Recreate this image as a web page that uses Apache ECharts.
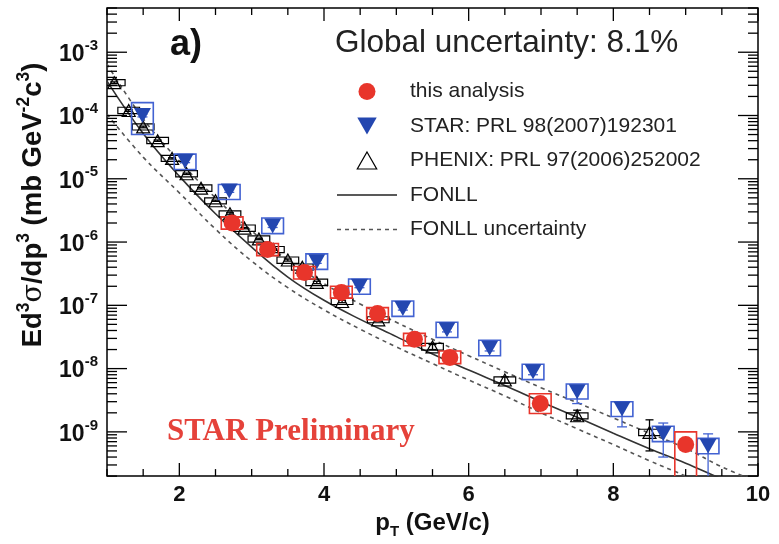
<!DOCTYPE html>
<html>
<head>
<meta charset="utf-8">
<script src="https://cdn.jsdelivr.net/npm/echarts@6/dist/echarts.min.js"></script>
<style>
html,body{margin:0;padding:0;background:#fff;}
#chart{width:779px;height:544px;}
</style>
</head>
<body>
<div id="chart"></div>
<script>
// ---------------- data ----------------
const xMin = 1, xMax = 10;
const yMin = 2e-10, yMax = 5e-3;
const xTickLabels = [2, 4, 6, 8, 10];
const yDecades = [-9, -8, -7, -6, -5, -4, -3];

// this analysis (red)
const redPt     = [2.73, 3.22, 3.73, 4.24, 4.74, 5.25, 5.74, 6.99, 9.0];
const redVal    = [2.0e-6, 7.6e-7, 3.3e-7, 1.6e-7, 7.4e-8, 2.9e-8, 1.5e-8, 2.8e-9, 6.3e-10];
const redSysHi  = [2.5e-6, 9.5e-7, 4.1e-7, 2.0e-7, 9.2e-8, 3.6e-8, 1.9e-8, 4.0e-9, 1.0e-9];
const redSysLo  = [1.6e-6, 6.1e-7, 2.6e-7, 1.3e-7, 5.9e-8, 2.3e-8, 1.2e-8, 1.95e-9, 1.0e-10];

// STAR PRL 98 (2007) 192301 (blue)
const starPt    = [1.49, 2.08, 2.69, 3.29, 3.90, 4.49, 5.09, 5.70, 6.29, 6.89, 7.50, 8.12, 8.69, 9.31];
const starVal   = [1.0e-4, 1.9e-5, 6.4e-6, 1.8e-6, 4.9e-7, 2.0e-7, 8.9e-8, 4.1e-8, 2.1e-8, 8.9e-9, 4.3e-9, 2.3e-9, 9.3e-10, 6.0e-10];
const starSysHi = [1.6e-4, 2.45e-5, 8.1e-6, 2.4e-6, 6.5e-7, 2.6e-7, 1.17e-7, 5.4e-8, 2.8e-8, 1.17e-8, 5.7e-9, 3.0e-9, 1.23e-9, 7.9e-10];
const starSysLo = [5.0e-5, 1.4e-5, 4.7e-6, 1.36e-6, 3.7e-7, 1.5e-7, 6.7e-8, 3.1e-8, 1.6e-8, 6.7e-9, 3.3e-9, 1.75e-9, 7.0e-10, 4.5e-10];
const starStatHi= [1.05e-4, 2.0e-5, 6.7e-6, 1.9e-6, 5.2e-7, 2.1e-7, 9.4e-8, 4.4e-8, 2.3e-8, 9.8e-9, 4.6e-9, 2.95e-9, 1.38e-9, 9.3e-10];
const starStatLo= [0.95e-4, 1.8e-5, 6.1e-6, 1.7e-6, 4.6e-7, 1.9e-7, 8.4e-8, 3.8e-8, 1.9e-8, 8.0e-9, 2.8e-9, 1.2e-9, 4.0e-10, 1.0e-10];

// PHENIX PRL 97 (2006) 252002 (black open triangles)
const phxPt     = [1.1, 1.3, 1.5, 1.7, 1.9, 2.1, 2.3, 2.5, 2.7, 2.9, 3.1, 3.3, 3.5, 3.7, 3.9, 4.25, 4.75, 5.5, 6.5, 7.5, 8.5];
const phxVal    = [3.3e-4, 1.2e-4, 6.6e-5, 4.0e-5, 2.1e-5, 1.2e-5, 7.1e-6, 4.5e-6, 2.8e-6, 1.66e-6, 1.12e-6, 7.6e-7, 5.2e-7, 4.0e-7, 2.3e-7, 1.15e-7, 5.9e-8, 2.2e-8, 6.6e-9, 1.8e-9, 9.8e-10];
const phxStatHi = [3.4e-4, 1.24e-4, 6.8e-5, 4.1e-5, 2.15e-5, 1.23e-5, 7.3e-6, 4.6e-6, 2.9e-6, 1.7e-6, 1.15e-6, 7.8e-7, 5.4e-7, 4.2e-7, 2.4e-7, 1.2e-7, 6.2e-8, 2.4e-8, 7.4e-9, 2.2e-9, 1.55e-9];
const phxStatLo = [3.2e-4, 1.16e-4, 6.4e-5, 3.9e-5, 2.05e-5, 1.17e-5, 6.9e-6, 4.4e-6, 2.7e-6, 1.62e-6, 1.09e-6, 7.4e-7, 5.0e-7, 3.8e-7, 2.2e-7, 1.1e-7, 5.6e-8, 2.0e-8, 5.9e-9, 1.5e-9, 5.0e-10];
const phxSysHi  = [3.7e-4, 1.35e-4, 7.4e-5, 4.5e-5, 2.35e-5, 1.35e-5, 8.0e-6, 5.0e-6, 3.1e-6, 1.86e-6, 1.25e-6, 8.5e-7, 5.8e-7, 4.5e-7, 2.6e-7, 1.29e-7, 6.6e-8, 2.5e-8, 7.4e-9, 2.0e-9, 1.1e-9];
const phxSysLo  = [2.95e-4, 1.07e-4, 5.9e-5, 3.6e-5, 1.88e-5, 1.07e-5, 6.3e-6, 4.0e-6, 2.5e-6, 1.48e-6, 1.0e-6, 6.8e-7, 4.6e-7, 3.6e-7, 2.05e-7, 1.03e-7, 5.3e-8, 1.96e-8, 5.9e-9, 1.6e-9, 8.7e-10];

// FONLL curves
const fonllPt      = [1.0, 1.5, 2.0, 2.5, 3.0, 3.5, 4.0, 4.5, 5.0, 5.5, 6.0, 6.5, 7.0, 7.5, 8.0, 8.5, 9.0, 9.5, 10.0];
const fonllCentral = [3.5e-4, 5.2e-5, 1.1e-5, 2.8e-6, 8.3e-7, 2.8e-7, 1.2e-7, 6.0e-8, 3.2e-8, 1.7e-8, 9.5e-9, 5.4e-9, 3.0e-9, 1.7e-9, 9.5e-10, 5.4e-10, 3.2e-10, 1.8e-10, 1.07e-10];
const fonllUpper   = [6.5e-4, 8.9e-5, 1.9e-5, 5.0e-6, 1.5e-6, 5.2e-7, 2.2e-7, 1.05e-7, 5.4e-8, 2.9e-8, 1.6e-8, 8.9e-9, 5.0e-9, 2.9e-9, 1.66e-9, 9.5e-10, 5.5e-10, 2.8e-10, 1.6e-10];
const fonllLower   = [1.05e-4, 2.2e-5, 6.0e-6, 1.6e-6, 5.0e-7, 1.9e-7, 8.5e-8, 4.2e-8, 2.2e-8, 1.2e-8, 6.6e-9, 3.7e-9, 2.0e-9, 1.12e-9, 6.3e-10, 3.5e-10, 2.0e-10, 1.1e-10, 6.0e-11];

// ---------------- styles ----------------
const RED = '#e8352b', BLUE = '#2447b0', BLUEBOX = '#4262d2';
const SANS = '"Liberation Sans", Arial, Helvetica, sans-serif';
const nameRed = 'this analysis';
const nameStar = 'STAR: PRL 98(2007)192301';
const namePhx = 'PHENIX: PRL 97(2006)252002';
const TRI_DOWN = 'path://M0,0L16,0L8,14Z';
const LINE_ICON = 'path://M0,0L60,0L60,1.6L0,1.6Z';
const DASH_ICON = 'path://M0,0h4v1.6h-4z M8,0h4v1.6h-4z M16,0h4v1.6h-4z M24,0h4v1.6h-4z M32,0h4v1.6h-4z M40,0h4v1.6h-4z M48,0h4v1.6h-4z M56,0h4v1.6h-4z';

const zip = (a, b) => a.map((v, i) => [v, b[i]]);
const zip4 = (a, b, c, d) => a.map((v, i) => [v, b[i], c[i], d[i]]);

function boxRender(color, hw, lw) {
  return function (params, api) {
    const x = api.value(0), lo = api.value(2), hi = api.value(3);
    const p1 = api.coord([x - hw, hi]);
    const p2 = api.coord([x + hw, lo]);
    return { type: 'rect', shape: { x: p1[0], y: p1[1], width: p2[0] - p1[0], height: p2[1] - p1[1] },
      style: { fill: 'none', stroke: color, lineWidth: lw } };
  };
}
function errRender(color, cap) {
  return function (params, api) {
    const x = api.value(0), lo = api.value(2), hi = api.value(3);
    const a = api.coord([x, hi]), b = api.coord([x, lo]);
    const st = { stroke: color, lineWidth: 1.3 };
    return { type: 'group', children: [
      { type: 'line', shape: { x1: a[0], y1: a[1], x2: b[0], y2: b[1] }, style: st },
      { type: 'line', shape: { x1: a[0] - cap, y1: a[1], x2: a[0] + cap, y2: a[1] }, style: st },
      { type: 'line', shape: { x1: b[0] - cap, y1: b[1], x2: b[0] + cap, y2: b[1] }, style: st }
    ] };
  };
}
function tickRender(params, api) {
  const ch = [];
  const st = { stroke: '#000', lineWidth: 1.3 };
  for (let v = xMin; v <= xMax + 1e-9; v += 0.5) {
    const major = xTickLabels.indexOf(v) >= 0;
    const len = major ? 13 : 7;
    const b = api.coord([v, yMin]), t = api.coord([v, yMax]);
    ch.push({ type: 'line', shape: { x1: b[0], y1: b[1], x2: b[0], y2: b[1] - len }, style: st });
    ch.push({ type: 'line', shape: { x1: t[0], y1: t[1], x2: t[0], y2: t[1] + len }, style: st });
  }
  for (let e = -10; e <= -2; e++) {
    for (let k = 1; k <= 9; k++) {
      const v = k * Math.pow(10, e);
      if (v < yMin * 0.999 || v > yMax * 1.001) continue;
      const len = k === 1 ? 20 : 10;
      const l = api.coord([xMin, v]), r = api.coord([xMax, v]);
      ch.push({ type: 'line', shape: { x1: l[0], y1: l[1], x2: l[0] + len, y2: l[1] }, style: st });
      ch.push({ type: 'line', shape: { x1: r[0], y1: r[1], x2: r[0] - len, y2: r[1] }, style: st });
    }
  }
  return { type: 'group', children: ch };
}

const chart = echarts.init(document.getElementById('chart'), null, { renderer: 'canvas' });

const option = {
  animation: false,
  backgroundColor: '#fff',
  grid: { left: 107, right: 21, top: 8, bottom: 58, show: true, borderColor: '#000', borderWidth: 1.5, backgroundColor: 'transparent' },
  xAxis: {
    type: 'value', min: xMin, max: xMax, interval: 1,
    axisLine: { show: false }, axisTick: { show: false }, splitLine: { show: false },
    axisLabel: {
      margin: 8, fontSize: 22, fontWeight: 'bold', color: '#111', fontFamily: SANS, showMaxLabel: true,
      formatter: v => (xTickLabels.indexOf(v) >= 0 ? String(v) : '')
    },
    name: '{m|p}{sub|T}{m| (GeV/c)}', nameLocation: 'middle', nameGap: 31,
    nameTextStyle: {
      rich: {
        m: { fontSize: 24, fontWeight: 'bold', color: '#111', fontFamily: SANS, lineHeight: 28, verticalAlign: 'top' },
        sub: { fontSize: 15, fontWeight: 'bold', color: '#111', fontFamily: SANS, lineHeight: 16, verticalAlign: 'bottom' }
      }
    }
  },
  yAxis: {
    type: 'log', logBase: 10, min: yMin, max: yMax,
    axisLine: { show: false }, axisTick: { show: false }, splitLine: { show: false },
    axisLabel: {
      margin: 9, fontFamily: SANS,
      formatter: function (v) {
        const e = Math.log10(v);
        const r = Math.round(e);
        if (Math.abs(e - r) > 1e-6) return '';
        return '{b|10}{s|' + r + '}';
      },
      rich: {
        b: { fontSize: 23, fontWeight: 'bold', color: '#111', fontFamily: SANS, lineHeight: 28, verticalAlign: 'bottom' },
        s: { fontSize: 15, fontWeight: 'bold', color: '#111', fontFamily: SANS, lineHeight: 16, verticalAlign: 'top' }
      }
    }
  },
  legend: {
    orient: 'vertical', left: 332, top: 76, itemWidth: 60, itemHeight: 17, itemGap: 13.5,
    selectedMode: false,
    textStyle: { fontSize: 21, color: '#222', fontFamily: SANS, lineHeight: 20, padding: [0, 0, 0, 8] },
    data: [
      { name: nameRed, icon: 'circle', itemStyle: { color: RED, opacity: 1 } },
      { name: nameStar, icon: TRI_DOWN, itemStyle: { color: BLUE, opacity: 1 } },
      { name: namePhx, icon: 'path://M8,0L16,14L0,14Z', itemStyle: { color: 'rgba(0,0,0,0)', borderColor: '#000', borderWidth: 1.2 } },
      { name: 'FONLL', icon: LINE_ICON, itemStyle: { color: '#222', opacity: 1 } },
      { name: 'FONLL uncertainty', icon: DASH_ICON, itemStyle: { color: '#555', opacity: 1 } }
    ]
  },
  graphic: [
    { type: 'text', x: 186, y: 45, style: { text: 'a)', fontSize: 36, fontWeight: 'bold', fill: '#111', fontFamily: SANS, align: 'center', verticalAlign: 'middle' } },
    { type: 'text', x: 335, y: 43, style: { text: 'Global uncertainty: 8.1%', fontSize: 31.5, fill: '#222', fontFamily: SANS, align: 'left', verticalAlign: 'middle' } },
    { type: 'text', x: 167, y: 432, style: { text: 'STAR Preliminary', fontSize: 31, fontWeight: 'bold', fill: '#e5423a', fontFamily: '"Liberation Serif", "Times New Roman", serif', align: 'left', verticalAlign: 'middle' } },
    { type: 'text', x: 31, y: 205, rotation: Math.PI / 2,
      style: {
        text: '{m|Ed}{s|3}{g|σ}{m|/dp}{s|3}{m| (mb GeV}{s|-2}{m|c}{s|3}{m|)}',
        align: 'center', verticalAlign: 'middle',
        rich: {
          m: { fontSize: 27.5, fontWeight: 'bold', fill: '#111', fontFamily: SANS, lineHeight: 32, verticalAlign: 'bottom' },
          g: { fontSize: 27, fill: '#111', fontFamily: '"DejaVu Serif", serif', lineHeight: 32, verticalAlign: 'bottom' },
          s: { fontSize: 17.5, fontWeight: 'bold', fill: '#111', fontFamily: SANS, lineHeight: 18, verticalAlign: 'top' }
        }
      } }
  ],
  series: [
    { name: 'FONLL', type: 'line', data: zip(fonllPt, fonllCentral), smooth: 0.4, symbol: 'none', clip: true, z: 2,
      lineStyle: { color: '#333', width: 1.6, type: 'solid' }, itemStyle: { color: '#333' } },
    { name: 'FONLL uncertainty', type: 'line', data: zip(fonllPt, fonllUpper), smooth: 0.4, symbol: 'none', clip: true, z: 2,
      lineStyle: { color: '#555', width: 1.6, type: [4, 4] }, itemStyle: { color: '#555' } },
    { name: 'FONLL uncertainty', type: 'line', data: zip(fonllPt, fonllLower), smooth: 0.4, symbol: 'none', clip: true, z: 2,
      lineStyle: { color: '#555', width: 1.6, type: [4, 4] }, itemStyle: { color: '#555' } },

    { type: 'custom', name: 'phxSys', clip: true, z: 3, silent: true, encode: { x: 0, y: 1 },
      renderItem: boxRender('#000', 0.15, 1.2), data: zip4(phxPt, phxVal, phxSysLo, phxSysHi) },
    { type: 'custom', name: 'phxStat', clip: true, z: 3, silent: true, encode: { x: 0, y: 1 },
      renderItem: errRender('#000', 4), data: zip4(phxPt, phxVal, phxStatLo, phxStatHi) },
    { name: namePhx, type: 'scatter', data: zip(phxPt, phxVal), symbol: 'triangle', symbolSize: [13, 12], z: 4, clip: true,
      itemStyle: { color: 'rgba(0,0,0,0)', borderColor: '#000', borderWidth: 1.2, opacity: 1 } },

    { type: 'custom', name: 'starSys', clip: true, z: 5, silent: true, encode: { x: 0, y: 1 },
      renderItem: boxRender(BLUEBOX, 0.15, 1.6), data: zip4(starPt, starVal, starSysLo, starSysHi) },
    { type: 'custom', name: 'starStat', clip: true, z: 5, silent: true, encode: { x: 0, y: 1 },
      renderItem: errRender(BLUEBOX, 5), data: zip4(starPt, starVal, starStatLo, starStatHi) },
    { name: nameStar, type: 'scatter', data: zip(starPt, starVal), symbol: TRI_DOWN, symbolSize: [17, 15], z: 6, clip: true,
      itemStyle: { color: BLUE, opacity: 1 } },

    { type: 'custom', name: 'redSys', clip: true, z: 7, silent: true, encode: { x: 0, y: 1 },
      renderItem: boxRender(RED, 0.15, 1.6), data: zip4(redPt, redVal, redSysLo, redSysHi) },
    { name: nameRed, type: 'scatter', data: zip(redPt, redVal), symbol: 'circle', symbolSize: 17, z: 8, clip: true,
      itemStyle: { color: RED, opacity: 1 } },

    { type: 'custom', name: 'ticks', clip: false, z: 10, silent: true, encode: { x: 0, y: 1 },
      renderItem: tickRender, data: [[xMin, 1e-6]] }
  ]
};
chart.setOption(option);
</script>
</body>
</html>
